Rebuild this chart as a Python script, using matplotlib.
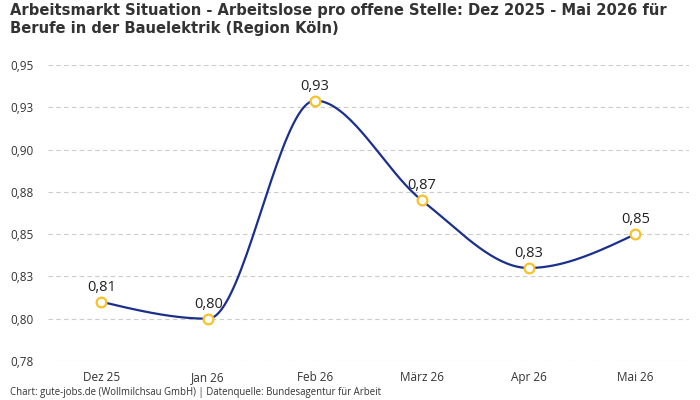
import numpy as np
import matplotlib.pyplot as plt
from matplotlib.ticker import FuncFormatter

plt.rcParams['font.family'] = ['Open Sans', 'DejaVu Sans']

# Data
months = ["Dez 25", "Jan 26", "Feb 26", "März 26", "Apr 26", "Mai 26"]
ratio = [0.810, 0.800, 0.929, 0.870, 0.830, 0.850]
y_ticks = [0.775, 0.80, 0.825, 0.85, 0.875, 0.90, 0.925, 0.95]

title = ("Arbeitsmarkt Situation - Arbeitslose pro offene Stelle: Dez 2025 - Mai 2026 für\n"
         "Berufe in der Bauelektrik (Region Köln)")
footer = "Chart: gute-jobs.de (Wollmilchsau GmbH) | Datenquelle: Bundesagentur für Arbeit"

LINE = "#1b2f8c"
MARKER = "#f6c229"
TEXT = "#333333"


def fmt(v):
    return f"{v + 1e-9:.2f}".replace('.', ',')


# monotone cubic curve (like d3.curveMonotoneX) for drawing the line
def monotone_curve(x, y, n=40):
    x = np.asarray(x, float)
    y = np.asarray(y, float)
    h = np.diff(x)
    s = np.diff(y) / h
    m = np.zeros(len(x))
    for i in range(1, len(x) - 1):
        p = (s[i - 1] * h[i] + s[i] * h[i - 1]) / (h[i - 1] + h[i])
        m[i] = (np.sign(s[i - 1]) + np.sign(s[i])) * min(abs(s[i - 1]), abs(s[i]), 0.5 * abs(p))
    m[0] = (3 * s[0] - m[1]) / 2
    m[-1] = (3 * s[-1] - m[-2]) / 2
    xs, ys = [], []
    for i in range(len(x) - 1):
        t = np.linspace(0, 1, n)
        h00 = 2 * t**3 - 3 * t**2 + 1
        h10 = t**3 - 2 * t**2 + t
        h01 = -2 * t**3 + 3 * t**2
        h11 = t**3 - t**2
        xs.append(x[i] + t * h[i])
        ys.append(h00 * y[i] + h10 * h[i] * m[i] + h01 * y[i + 1] + h11 * h[i] * m[i + 1])
    return np.concatenate(xs), np.concatenate(ys)


fig = plt.figure(figsize=(7, 4), dpi=100)
ax = fig.add_axes([0.0686, 0.0975, 0.9154, 0.74])

xpos = np.arange(len(months))
cx, cy = monotone_curve(xpos, ratio)
ax.plot(cx, cy, color=LINE, lw=1.6, zorder=3, solid_capstyle='round')
ax.plot(xpos, ratio, 'o', ms=7, mfc='white', mec=MARKER, mew=1.6, zorder=4)

for x, v in zip(xpos, ratio):
    ax.annotate(fmt(v), (x, v), xytext=(0, 5), textcoords='offset points',
                ha='center', va='bottom', fontsize=10.5, color='#222222')

ax.set_xlim(-0.5, len(months) - 0.5)
ax.set_ylim(0.775, 0.95)
ax.set_xticks(xpos)
ax.set_xticklabels(months)
ax.set_yticks(y_ticks)
ax.yaxis.set_major_formatter(FuncFormatter(lambda v, _: fmt(v)))
ax.grid(axis='y', color='#cccccc', linestyle=(0, (4, 3)), lw=0.8)
ax.set_axisbelow(True)
for sp in ax.spines.values():
    sp.set_visible(False)
ax.tick_params(axis='both', length=0, labelsize=8.5, labelcolor=TEXT)
ax.tick_params(axis='x', pad=7)
ax.tick_params(axis='y', pad=27)
for lab in ax.get_yticklabels():
    lab.set_horizontalalignment('left')

fig.text(10 / 700, 1 - 3 / 400, title, ha='left', va='top', fontsize=10.6, fontweight='bold',
         family=['DejaVu Sans'], color=TEXT, linespacing=1.25)
fig.text(10 / 700, 1 - 393 / 400, footer, ha='left', va='center', fontsize=6.95, color=TEXT)

fig.savefig("out.png", dpi=100)
